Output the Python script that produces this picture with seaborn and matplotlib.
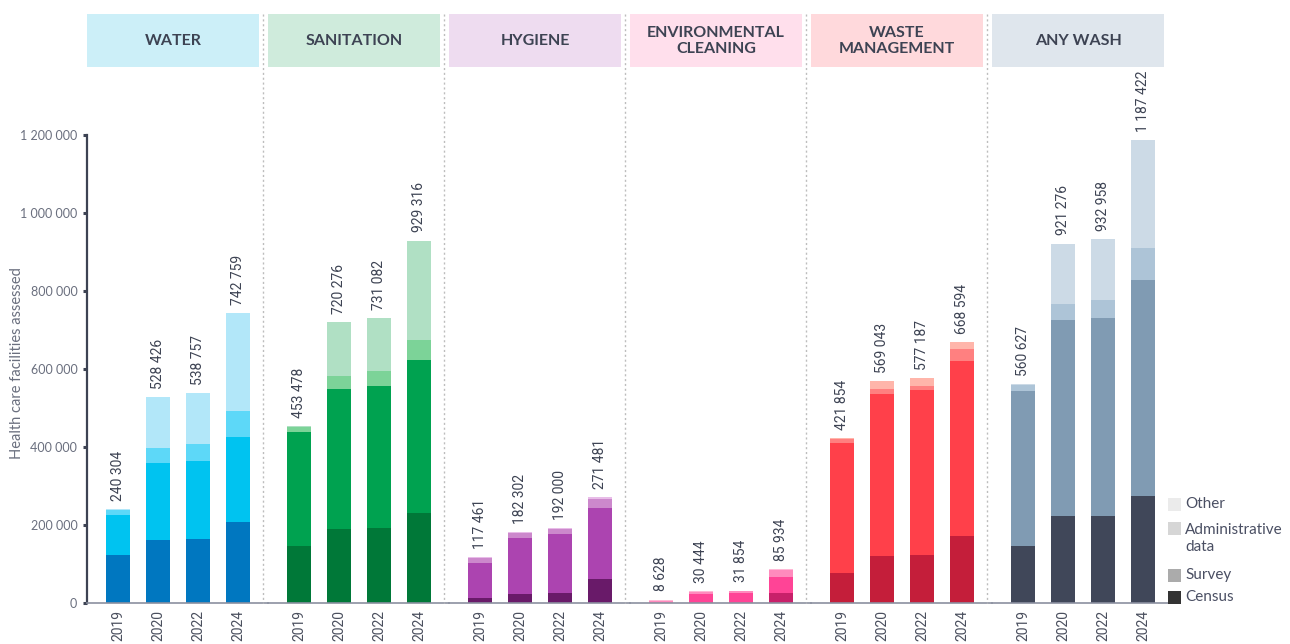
import matplotlib
matplotlib.use("Agg")
import matplotlib.pyplot as plt
from matplotlib.patches import Rectangle
from matplotlib.lines import Line2D
from matplotlib.ticker import FuncFormatter
import seaborn as sns
import pandas as pd

# ---------------------------------------------------------------- data
years = ["2019", "2020", "2022", "2024"]

domains = ["WATER", "SANITATION", "HYGIENE",
           "ENVIRONMENTAL\nCLEANING", "WASTE\nMANAGEMENT", "ANY WASH"]

water_census = [124000, 162600, 165200, 207900]
water_survey = [101200, 195600, 198200, 218000]
water_admin = [12600, 38100, 43200, 65900]
water_other = [2504, 132126, 132157, 250959]

sanitation_census = [145700, 188900, 191600, 229700]
sanitation_survey = [292500, 361000, 363900, 394300]
sanitation_admin = [12700, 33000, 38200, 50900]
sanitation_other = [2578, 137376, 137382, 254416]

hygiene_census = [13400, 24100, 26600, 62100]
hygiene_survey = [88800, 142600, 149900, 181300]
hygiene_admin = [12700, 13000, 12900, 23000]
hygiene_other = [2561, 2602, 2600, 5081]

cleaning_census = [0, 500, 500, 25800]
cleaning_survey = [300, 23000, 24500, 40100]
cleaning_admin = [5800, 5200, 5100, 17500]
cleaning_other = [2528, 1744, 1754, 2534]

waste_census = [76900, 121100, 123700, 172200]
waste_survey = [332300, 414700, 422700, 447800]
waste_admin = [10100, 12800, 10200, 30700]
waste_other = [2554, 20443, 20587, 17894]

anywash_census = [145200, 223400, 223000, 273800]
anywash_survey = [398300, 502000, 508800, 555400]
anywash_admin = [14400, 41200, 44000, 82300]
anywash_other = [2727, 154676, 157158, 275922]

series = [
    (water_census, water_survey, water_admin, water_other),
    (sanitation_census, sanitation_survey, sanitation_admin, sanitation_other),
    (hygiene_census, hygiene_survey, hygiene_admin, hygiene_other),
    (cleaning_census, cleaning_survey, cleaning_admin, cleaning_other),
    (waste_census, waste_survey, waste_admin, waste_other),
    (anywash_census, anywash_survey, anywash_admin, anywash_other),
]

legend_labels = ["Other", "Administrative\ndata", "Survey", "Census"]

# ---------------------------------------------------------------- styling
# census, survey, administrative, other, header background
palettes = [
    ("#0077C0", "#00C3F0", "#5DD8F8", "#B2E7F9", "#CCEFF8"),
    ("#007838", "#00A250", "#7CD398", "#B0E0C4", "#CFEBDC"),
    ("#691A69", "#AC44B0", "#CC88CC", "#E8BCE8", "#EEDCF0"),
    ("#C8206A", "#FF4496", "#FF8ABD", "#FFB8D6", "#FFDFEC"),
    ("#C41E3A", "#FF404A", "#FF8080", "#FFB5AA", "#FFD9DC"),
    ("#404759", "#809BB3", "#ADC4D7", "#CCDAE6", "#DFE6ED"),
]
legend_colors = ["#EBEBEB", "#D6D6D6", "#ABABAB", "#333333"]

sns.set_theme(style="white")
plt.rcParams["font.family"] = ["Lato", "DejaVu Sans"]

DARK = "#3D4353"
W, H = 1290, 644


def fx(x):
    return x / W


def fy(y):
    return 1 - y / H


fig = plt.figure(figsize=(W / 100, H / 100), dpi=100)

base_y = 603
top_y = 135
slot_w = 181
ymax = 1_200_000

for i, (name, data, pal) in enumerate(zip(domains, series, palettes)):
    census, survey, admin, other = data
    c_col, s_col, a_col, o_col, bg = pal
    slot = 87 + slot_w * i

    ax = fig.add_axes([fx(slot), fy(base_y), slot_w / W, (base_y - top_y) / H])
    ax.set_facecolor("none")

    df = pd.DataFrame({"year": years, "census": census, "survey": survey,
                       "admin": admin, "other": other})
    df["lvl1"] = df["census"]
    df["lvl2"] = df["lvl1"] + df["survey"]
    df["lvl3"] = df["lvl2"] + df["admin"]
    df["lvl4"] = df["lvl3"] + df["other"]

    # stacked bars: draw the tallest cumulative layer first, then overlay
    for col, color in zip(["lvl4", "lvl3", "lvl2", "lvl1"], [o_col, a_col, s_col, c_col]):
        sns.barplot(data=df, x="year", y=col, order=years, color=color,
                    width=0.6, saturation=1, errorbar=None, linewidth=0, ax=ax)

    for j, total in enumerate(df["lvl4"]):
        ax.annotate(f"{int(total):,}".replace(",", " "), xy=(j, total),
                    xytext=(0, 6), textcoords="offset points", rotation=90,
                    ha="center", va="bottom", fontsize=10, color=DARK,
                    family=["Roboto", "DejaVu Sans"], annotation_clip=False)

    ax.set_xlim(-0.78, -0.78 + slot_w / 40)
    ax.set_ylim(0, ymax)
    ax.set_xlabel("")
    ax.set_ylabel("")
    ax.set_xticks(range(len(years)))
    ax.set_xticklabels(years, rotation=90, fontsize=10, color="#4A4F5E",
                       family=["Roboto", "DejaVu Sans"])
    ax.tick_params(axis="x", length=0, pad=5)

    for side in ("top", "right"):
        ax.spines[side].set_visible(False)
    ax.spines["bottom"].set_color("#8B90A0")
    ax.spines["bottom"].set_linewidth(1.2)

    if i == 0:
        ax.spines["left"].set_color(DARK)
        ax.spines["left"].set_linewidth(1.6)
        ax.set_yticks(range(0, ymax + 1, 200_000))
        ax.yaxis.set_major_formatter(
            FuncFormatter(lambda v, _: f"{int(v):,}".replace(",", " ")))
        ax.tick_params(axis="y", left=True, length=3, width=2.2, color=DARK,
                       labelsize=9, labelcolor="#6A6F7E", pad=4)
    else:
        ax.spines["left"].set_visible(False)
        ax.set_yticks([])

    # header box with the domain name
    fig.patches.append(Rectangle((fx(slot), fy(67)), 172 / W, 53 / H,
                                 transform=fig.transFigure, facecolor=bg,
                                 edgecolor="none", zorder=0))
    fig.text(fx(slot + 86), fy(41), name, ha="center", va="center",
             fontsize=11.5, fontweight="bold", color=DARK, linespacing=1.2)

    # dotted divider between domains
    if i > 0:
        fig.add_artist(Line2D([fx(slot - 5)] * 2, [fy(14), fy(base_y)],
                              transform=fig.transFigure, color="#BDBDBD",
                              linewidth=1, linestyle=(0, (1.5, 2))))

fig.text(fx(17), fy(363), "Health care facilities assessed", rotation=90,
         ha="center", va="center", fontsize=10.5, color="#6A6F7E")

# legend (top to bottom: Other, Administrative data, Survey, Census)
legend_rows = [(504, 504), (528, 538.5), (575, 575), (597, 597)]
for (sq_y, txt_y), label, color in zip(legend_rows, legend_labels, legend_colors):
    fig.patches.append(Rectangle((fx(1168), fy(sq_y + 6.5)), 13 / W, 13 / H,
                                 transform=fig.transFigure, facecolor=color,
                                 edgecolor="none"))
    fig.text(fx(1185), fy(txt_y), label, ha="left", va="center",
             fontsize=11, color="#4A4F63", linespacing=1.25)

fig.savefig("out.png", dpi=100)
